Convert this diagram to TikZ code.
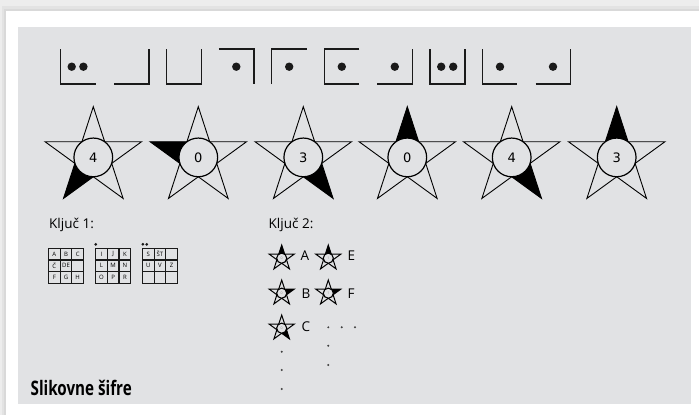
\documentclass[tikz,border=0pt]{standalone}
\usepackage{fontspec}
\setmainfont{Open Sans}
\newfontfamily\digitfont{DejaVu Sans}
\definecolor{panel}{HTML}{E1E2E4}
\definecolor{outerbg}{HTML}{EDEDED}
\definecolor{shadowa}{HTML}{E3E3E3}
\definecolor{shadowb}{HTML}{D9D9D9}
\definecolor{ink}{HTML}{1A1A1A}
\tikzset{
  pig/.style={draw=ink, line width=1.5pt, line join=miter},
  pigdot/.style={fill=ink},
  bigstarline/.style={draw=black, line width=0.9pt, line join=miter},
  smallstarline/.style={draw=black, line width=1pt, line join=miter},
  bigdisc/.style={circle, draw=black, line width=1.2pt, fill=panel, minimum size=38.7pt, inner sep=0pt, font=\digitfont\fontsize{13}{13}\selectfont},
  smalldisc/.style={circle, draw=black, line width=1.1pt, fill=panel, minimum size=10.1pt, inner sep=0pt, text=black!45, font=\fontsize{3.5}{3.5}\selectfont},
  gridline/.style={draw=ink, line width=1.2pt},
  cellfont/.style={inner sep=0pt, font=\fontsize{6}{6}\selectfont},
  labelfont/.style={inner sep=0pt, font=\fontsize{13.5}{13.5}\selectfont},
  tinydot/.style={fill=black!75},
}
\newcommand\bigpenta[5]{%
  \begin{scope}[shift={(#2,#3)}]
    \fill[black] (#4:50.7pt) -- ({#4+36}:19.37pt) -- ({#4-36}:19.37pt) -- cycle;
    \draw[bigstarline] (90:50.7pt) -- (54:19.37pt) -- (18:50.7pt) -- (-18:19.37pt) -- (-54:50.7pt) -- (-90:19.37pt) -- (-126:50.7pt) -- (-162:19.37pt) -- (162:50.7pt) -- (126:19.37pt) -- cycle;
    \node[bigdisc] (#1) at (0,0) {#5};
  \end{scope}}
\newcommand\smallpenta[5]{%
  \begin{scope}[shift={(#2,#3)}]
    \fill[black] (#4:13.2pt) -- ({#4+36}:5.04pt) -- ({#4-36}:5.04pt) -- cycle;
    \draw[smallstarline] (90:13.2pt) -- (54:5.04pt) -- (18:13.2pt) -- (-18:5.04pt) -- (-54:13.2pt) -- (-90:5.04pt) -- (-126:13.2pt) -- (-162:5.04pt) -- (162:13.2pt) -- (126:5.04pt) -- cycle;
    \node[smalldisc] (#1) at (0,0) {#5};
  \end{scope}}
\newcommand\keygrid[3]{%
  \begin{scope}[shift={(#1,248.3)}]
    \draw[gridline] (0,0) rectangle (35,35);
    \foreach \k in {11.67,23.33} {\draw[gridline] (\k,0) -- (\k,35); \draw[gridline] (0,\k) -- (35,\k);}
    \foreach \t [count=\i from 0] in {#3} {
      \pgfmathtruncatemacro\cx{mod(\i,3)}
      \pgfmathtruncatemacro\cy{div(\i,3)}
      \node[cellfont] (#2-\i) at ({5.83+11.67*\cx},{5.83+11.67*\cy}) {\t};
    }
  \end{scope}}
\begin{document}
\begin{tikzpicture}[x=1pt,y=-1pt]
\useasboundingbox (0,0) rectangle (699,415);
% background card
\fill[outerbg] (0,0) rectangle (699,415);
\fill[shadowa] (2,6) rectangle (699,415);
\fill[shadowb] (4,9) rectangle (699,415);
\fill[white] (6,11) rectangle (699,415);
\fill[panel] (18,27) rectangle (691,404);

% pigpen symbols
\draw[pig] (60.7,49) -- (60.7,84) -- (95.7,84);
\fill[pigdot] (71.7,66.7) circle (4.2pt); \fill[pigdot] (83.4,66.7) circle (4.2pt);
\draw[pig] (114,84) -- (149,84) -- (149,49);
\draw[pig] (166.3,49) -- (166.3,84) -- (201.3,84) -- (201.3,49);
\draw[pig] (218.8,49) -- (253.8,49) -- (253.8,84);
\fill[pigdot] (236.3,66.7) circle (4.2pt);
\draw[pig] (271.7,84) -- (271.7,49) -- (306.7,49);
\fill[pigdot] (289.2,66.7) circle (4.2pt);
\draw[pig] (359.3,49) -- (324.3,49) -- (324.3,84) -- (359.3,84);
\fill[pigdot] (341.8,66.7) circle (4.2pt);
\draw[pig] (377.3,84) -- (412.3,84) -- (412.3,49);
\fill[pigdot] (394.8,66.7) circle (4.2pt);
\draw[pig] (430,49) -- (430,84) -- (465,84) -- (465,49);
\fill[pigdot] (441.2,66.7) circle (4.2pt); \fill[pigdot] (453.2,66.7) circle (4.2pt);
\draw[pig] (482.3,49) -- (482.3,84) -- (517.3,84);
\fill[pigdot] (500,66.7) circle (4.2pt);
\draw[pig] (535.7,84) -- (570.7,84) -- (570.7,49);
\fill[pigdot] (553,66.7) circle (4.2pt);

% big stars
\bigpenta{s1}{93.3}{157.4}{-126}{4}
\bigpenta{s2}{198.3}{157.4}{162}{0}
\bigpenta{s3}{303.3}{157.4}{-54}{3}
\bigpenta{s4}{407.3}{157.4}{90}{0}
\bigpenta{s5}{511.7}{157.4}{-54}{4}
\bigpenta{s6}{616.7}{157.4}{90}{3}

% key 1
\node[labelfont, anchor=base west] (k1) at (49,228.3) {Ključ 1:};
\keygrid{48.5}{ga}{A,B,C,Č,DE,{},F,G,H}
\keygrid{95.7}{gb}{I,J,K,L,M,N,O,P,R}
\keygrid{142.5}{gc}{S,ŠT,{},U,V,Z,{},{},{}}
\fill[ink] (95.7,244.3) circle (1.5pt);
\fill[ink] (142.9,244.3) circle (1.5pt);
\fill[ink] (146.7,244.3) circle (1.5pt);

% key 2
\node[labelfont, anchor=base west] (k2) at (268.5,228.3) {Ključ 2:};
\smallpenta{ta}{281.7}{258.2}{90}{0}
\smallpenta{tb}{281.7}{293.2}{18}{0}
\smallpenta{tc}{281.7}{328.2}{-54}{0}
\smallpenta{te}{328.3}{258.2}{90}{1}
\smallpenta{tf}{328.3}{293.2}{18}{1}
\node[labelfont, anchor=west] (la) at (300.5,255.5) {A};
\node[labelfont, anchor=west] (le) at (347.5,255.5) {E};
\node[labelfont, anchor=west] (lb) at (301.5,293.5) {B};
\node[labelfont, anchor=west] (lf) at (347.5,293.5) {F};
\node[labelfont, anchor=west] (lc) at (301.5,327) {C};
\foreach \px/\py in {328.3/327.3, 341.7/327.3, 355/327.3, 328.3/345.7, 328.3/365, 281.7/351.7, 281.7/370, 281.7/389}
  \fill[tinydot] (\px,\py) circle (1.1pt);

% title
\node[inner sep=0pt, anchor=base west, font=\bfseries\fontsize{20}{20}\selectfont] (title) at (30.5,395) {\scalebox{0.76}[1]{Slikovne šifre}};
\end{tikzpicture}
\end{document}
